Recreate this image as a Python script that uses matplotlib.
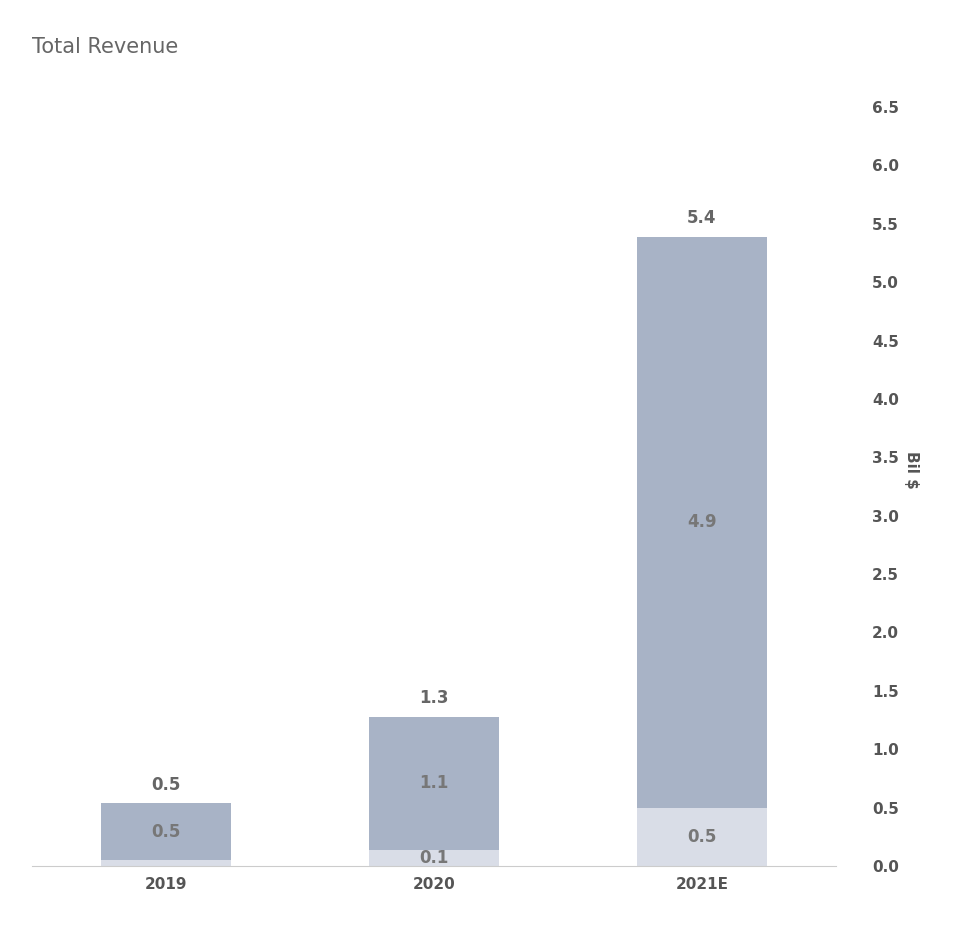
import matplotlib
matplotlib.use("Agg")
import matplotlib.pyplot as plt

categories = ["2019", "2020", "2021E"]
bottom_vals = [0.05, 0.14, 0.5]
top_vals = [0.49, 1.14, 4.89]
bottom_labels = ["", "0.1", "0.5"]
top_labels = ["0.5", "1.1", "4.9"]
total_labels = ["0.5", "1.3", "5.4"]
yticks = [0.0, 0.5, 1.0, 1.5, 2.0, 2.5, 3.0, 3.5, 4.0, 4.5, 5.0, 5.5, 6.0, 6.5]

W, H = 959, 938
fig = plt.figure(figsize=(W/100, H/100), dpi=100)
ax = fig.add_axes([32/W, (H-866)/H, (836-32)/W, (866-107)/H])
x = list(range(len(categories)))
bw = 0.485
ax.bar(x, bottom_vals, bw, color="#d9dde7")
ax.bar(x, top_vals, bw, bottom=bottom_vals, color="#a8b3c6")
for i in x:
    tot = bottom_vals[i] + top_vals[i]
    ax.text(i, tot + 0.08, total_labels[i], ha="center", va="bottom",
            fontsize=12, fontweight="bold", color="#666666")
    ax.text(i, bottom_vals[i] + top_vals[i] / 2, top_labels[i], ha="center", va="center",
            fontsize=12, fontweight="bold", color="#777777")
    if bottom_labels[i]:
        ax.text(i, max(bottom_vals[i] / 2, 0.15) - 0.08 if i == 1 else bottom_vals[i] / 2,
                bottom_labels[i], ha="center", va="center",
                fontsize=12, fontweight="bold", color="#777777")
ax.set_xlim(-0.5, 2.5)
ax.set_ylim(0, 6.5)
ax.set_xticks(x)
ax.set_xticklabels(categories, fontsize=11, fontweight="bold", color="#555555")
ax.set_yticks(yticks)
ax.set_yticklabels([f"{v:.1f}" for v in yticks], fontsize=11, fontweight="bold", color="#555555")
ax.yaxis.tick_right()
ax.tick_params(axis="y", length=0, pad=26)
ax.tick_params(axis="x", length=0, pad=8)
for s in ["top", "right", "left"]:
    ax.spines[s].set_visible(False)
ax.spines["bottom"].set_color("#cccccc")
fig.text(912/W, 1 - 470/H, "Bil $", rotation=-90, ha="center", va="center",
         fontsize=11, fontweight="bold", color="#555555")
fig.text(32/W, 1 - 47/H, "Total Revenue", ha="left", va="center", fontsize=15, color="#666666")
fig.savefig("out.png", dpi=100)
